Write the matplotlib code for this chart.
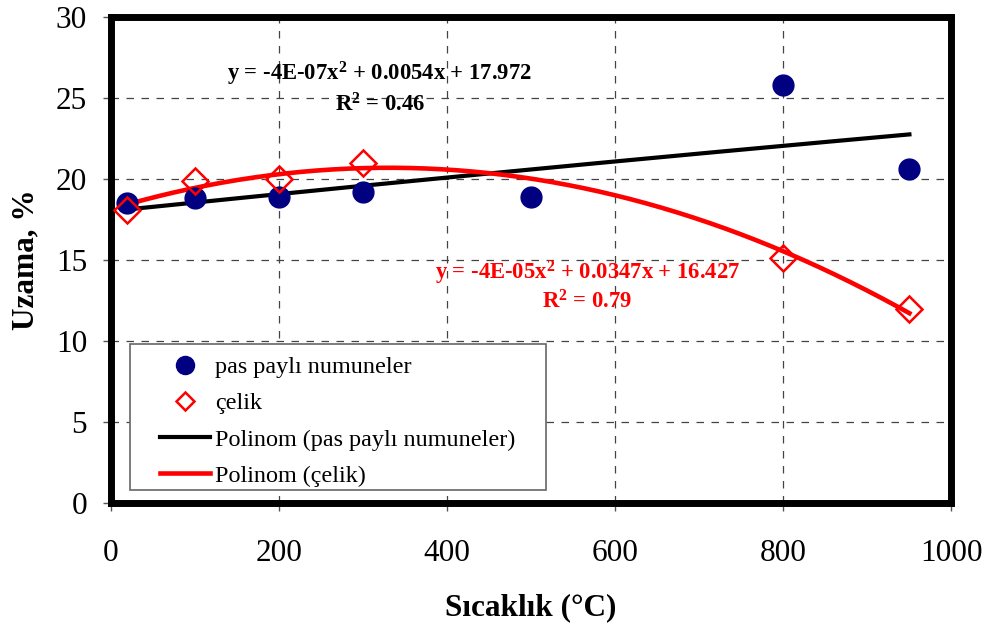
import numpy as np
import matplotlib.pyplot as plt
from matplotlib.patches import Rectangle

# Sıcaklık (°C) ve uzama (%) değerleri
sicaklik = [20, 100, 200, 300, 500, 800, 950]
uzama_pas = [18.5, 18.8, 18.9, 19.2, 18.9, 25.8, 20.6]

sicaklik_celik = [20, 100, 200, 300, 800, 950]
uzama_celik = [18.1, 19.9, 20.0, 21.0, 15.1, 12.0]

esitlik_pas = ["y = -4E-07x$^2$ + 0.0054x + 17.972", "R$^2$ = 0.46"]
esitlik_celik = ["y = -4E-05x$^2$ + 0.0347x + 16.427", "R$^2$ = 0.79"]

plt.rcParams['font.family'] = ['Liberation Serif', 'DejaVu Serif']
plt.rcParams['mathtext.fontset'] = 'custom'
plt.rcParams['mathtext.rm'] = 'Liberation Serif:bold'
plt.rcParams['mathtext.it'] = 'Liberation Serif:bold'
plt.rcParams['mathtext.bf'] = 'Liberation Serif:bold'

fig = plt.figure(figsize=(9.88, 6.28), dpi=100)
ax = fig.add_axes([0.112, 0.199, 0.851, 0.774])

# ikinci derece polinom eğilim çizgileri
xx = np.linspace(min(sicaklik), max(sicaklik), 200)
p_pas = np.polyfit(sicaklik, uzama_pas, 2)
p_celik = np.polyfit(sicaklik_celik, uzama_celik, 2)

ax.plot(sicaklik, uzama_pas, 'o', color='#000080', markersize=15,
        label='pas paylı numuneler', zorder=3)
ax.plot(sicaklik_celik, uzama_celik, 'D', color='red', markerfacecolor='none',
        markeredgewidth=1.8, markersize=13, label='çelik', zorder=4)
ax.plot(xx, np.polyval(p_pas, xx), color='black', lw=3,
        label='Polinom (pas paylı numuneler)', zorder=2)
ax.plot(xx, np.polyval(p_celik, xx), color='red', lw=3.3,
        label='Polinom (çelik)', zorder=2)

ax.set_xlim(0, 1000)
ax.set_ylim(0, 30)
ax.set_xticks(range(0, 1001, 200))
ax.set_yticks(range(0, 31, 5))
ax.grid(True, color='#444444', linestyle=(0, (6, 6)), linewidth=0.9)
ax.set_axisbelow(True)

for s in ax.spines.values():
    s.set_linewidth(5)
    s.set_color('black')
ax.tick_params(axis='both', labelsize=22.5, direction='out', length=6,
               width=1, color='#555555')
ax.tick_params(axis='x', pad=20)
ax.tick_params(axis='y', pad=11)

ax.set_xlabel('Sıcaklık (°C)', fontsize=22.5, fontweight='bold', labelpad=18)
ax.set_ylabel('Uzama, %', fontsize=22.5, fontweight='bold', labelpad=11)

ax.text(320, 26.5, esitlik_pas[0], ha='center', va='center', fontsize=16.3,
        fontweight='bold', color='black')
ax.text(320, 24.6, esitlik_pas[1], ha='center', va='center', fontsize=16.3,
        fontweight='bold', color='black')
ax.text(567, 14.2, esitlik_celik[0], ha='center', va='center', fontsize=16.3,
        fontweight='bold', color='red')
ax.text(567, 12.4, esitlik_celik[1], ha='center', va='center', fontsize=16.3,
        fontweight='bold', color='red')

# lejant çerçevesi elle çiziliyor
ax.add_patch(Rectangle((0.0226, 0.0267), 0.4953, 0.3004, transform=ax.transAxes,
                       facecolor='white', edgecolor='#666666', lw=1.2, zorder=5))
leg = ax.legend(loc='upper left', bbox_to_anchor=(0.0583, 0.302), fontsize=17.4,
                frameon=False, handlelength=2.1, handletextpad=0.2, borderpad=0,
                labelspacing=0.59, borderaxespad=0)
leg.set_zorder(6)
# lejanttaki işaretler biraz daha küçük
leg.legend_handles[0].set_markersize(13)
leg.legend_handles[1].set_markersize(9.5)

fig.savefig('out.png', dpi=100)
